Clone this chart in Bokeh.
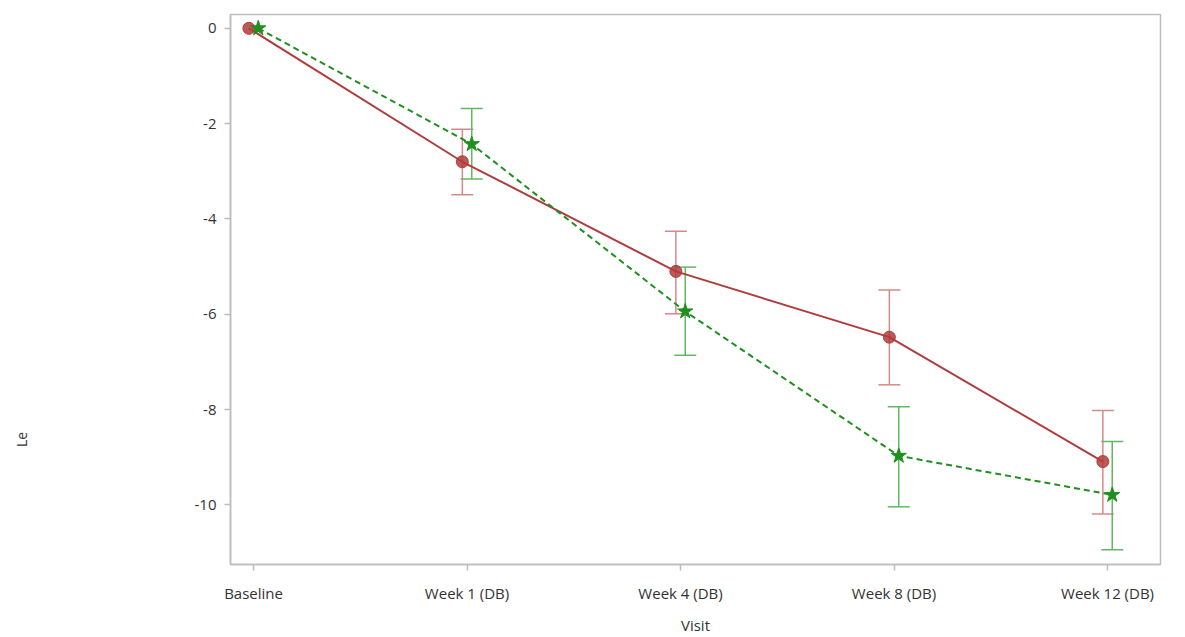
from bokeh.plotting import figure
from bokeh.layouts import row
from bokeh.models import ColumnDataSource, Whisker, TeeHead, FixedTicker, Range1d, Label
from bokeh.embed import file_html
from bokeh.resources import INLINE
import math

visits = ["Baseline", "Week 1 (DB)", "Week 4 (DB)", "Week 8 (DB)", "Week 12 (DB)"]
y_ticks = [0, -2, -4, -6, -8, -10]

red_mean = [0.0, -2.80, -5.10, -6.48, -9.09]
red_upper = [0.0, -2.12, -4.26, -5.49, -8.02]
red_lower = [0.0, -3.49, -5.99, -7.48, -10.19]

green_mean = [0.0, -2.43, -5.94, -8.97, -9.79]
green_upper = [0.0, -1.68, -5.01, -7.94, -8.67]
green_lower = [0.0, -3.16, -6.86, -10.04, -10.94]

y_title = "Le"

FONT = "Open Sans"
idx = list(range(len(visits)))
off = 0.022

# narrow strip on the left that carries the (clipped) y-axis title
p0 = figure(width=40, height=637, output_backend="svg", toolbar_location=None,
            x_range=Range1d(0, 40), y_range=Range1d(0, 637), min_border=0)
p0.axis.visible = False
p0.grid.visible = False
p0.outline_line_color = None
p0.border_fill_color = "white"
p0.add_layout(Label(x=30, y=136, text=y_title, angle=math.pi / 2,
                    text_font=FONT, text_font_size="14px", text_color="#333333"))

p = figure(width=1145, height=637, output_backend="svg", toolbar_location=None,
           x_range=Range1d(-0.108, 4.248), y_range=Range1d(-11.25, 0.29),
           min_border_left=190, min_border_top=14, min_border_right=25, min_border_bottom=68)
p.background_fill_color = "white"
p.border_fill_color = "white"
p.outline_line_color = "#bdbdbd"
p.outline_line_width = 1.5
p.xgrid.visible = False
p.ygrid.visible = False

for ax in (p.xaxis[0], p.yaxis[0]):
    ax.axis_line_color = "#bdbdbd"
    ax.axis_line_width = 1.5
    ax.major_tick_line_color = "#bdbdbd"
    ax.major_tick_line_width = 1.5
    ax.major_tick_out = 6
    ax.major_tick_in = 0
    ax.minor_tick_line_color = None
    ax.major_label_text_font = FONT
    ax.major_label_text_font_size = "15px"
    ax.major_label_text_color = "#333333"
    ax.axis_label_text_font = FONT
    ax.axis_label_text_font_style = "normal"
    ax.axis_label_text_font_size = "15px"
    ax.axis_label_text_color = "#333333"

p.xaxis.ticker = FixedTicker(ticks=idx)
p.xaxis.major_label_overrides = {i: v for i, v in enumerate(visits)}
p.xaxis.major_label_standoff = 12
p.xaxis.axis_label = "Visit"
p.xaxis.axis_label_standoff = 9
p.yaxis.ticker = FixedTicker(ticks=y_ticks)
p.yaxis.major_label_overrides = {t: str(t) for t in y_ticks}
p.yaxis.major_label_standoff = 8

red_c = "#b03c3c"
red_e = "#d48a8a"
green_c = "#1f8f1f"
green_e = "#62b862"

rs = ColumnDataSource(dict(x=[i - off for i in idx], y=red_mean))
gs = ColumnDataSource(dict(x=[i + off for i in idx], y=green_mean))
rs_e = ColumnDataSource(dict(x=[i - off for i in idx[1:]], lo=red_lower[1:], hi=red_upper[1:]))
gs_e = ColumnDataSource(dict(x=[i + off for i in idx[1:]], lo=green_lower[1:], hi=green_upper[1:]))

for src, col in ((rs_e, red_e), (gs_e, green_e)):
    w = Whisker(source=src, base="x", upper="hi", lower="lo", dimension="height",
                line_color=col, line_width=1.5,
                upper_head=TeeHead(size=22, line_color=col, line_width=1.5),
                lower_head=TeeHead(size=22, line_color=col, line_width=1.5))
    p.add_layout(w)

p.line("x", "y", source=rs, line_color=red_c, line_width=2)
p.line("x", "y", source=gs, line_color=green_c, line_width=2, line_dash="6 4")
p.scatter("x", "y", source=rs, marker="circle", size=12, fill_color=red_c, line_color=red_c, fill_alpha=0.85)
p.scatter("x", "y", source=gs, marker="star", size=16, fill_color=green_c, line_color=green_c)

layout = row(p0, p, spacing=0)
open("out.html", "w").write(file_html(layout, INLINE))
